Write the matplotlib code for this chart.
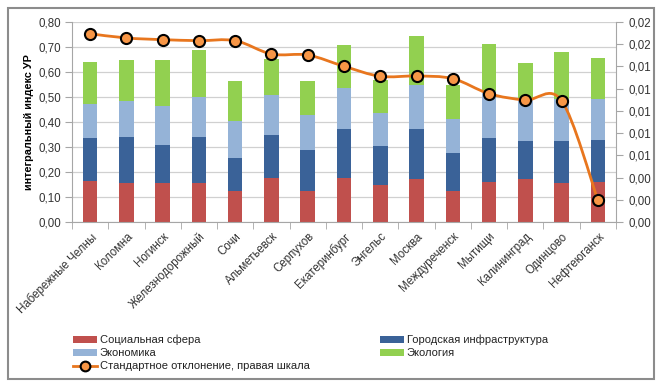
import numpy as np
import matplotlib
matplotlib.use('Agg')
import matplotlib.pyplot as plt
from matplotlib.patches import Rectangle, Patch
from matplotlib.lines import Line2D
from matplotlib.path import Path
from matplotlib.patches import PathPatch
from matplotlib.ticker import FuncFormatter, MultipleLocator

plt.rcParams['font.family'] = ['Liberation Sans', 'DejaVu Sans']

# данные
cities = ['Набережные Челны', 'Коломна', 'Ногинск', 'Железнодорожный', 'Сочи',
          'Альметьевск', 'Серпухов', 'Екатеринбург', 'Энгельс', 'Москва',
          'Междуреченск', 'Мытищи', 'Калининград', 'Одинцово', 'Нефтеюганск']
# накопленные уровни (верх каждого сегмента), левая шкала
top_social = [0.164, 0.157, 0.157, 0.158, 0.124, 0.176, 0.125, 0.178, 0.150, 0.173,
              0.125, 0.160, 0.172, 0.156, 0.162]
top_infra = [0.336, 0.341, 0.310, 0.342, 0.256, 0.349, 0.289, 0.373, 0.306, 0.373,
             0.277, 0.338, 0.326, 0.326, 0.329]
top_econ = [0.472, 0.484, 0.462, 0.500, 0.404, 0.509, 0.428, 0.536, 0.436, 0.546,
            0.412, 0.522, 0.489, 0.493, 0.493]
top_ecol = [0.640, 0.646, 0.649, 0.688, 0.565, 0.652, 0.565, 0.706, 0.566, 0.742,
            0.549, 0.710, 0.634, 0.678, 0.654]
# стандартное отклонение, правая шкала
std_dev = [0.01692, 0.01654, 0.01639, 0.01630, 0.01630, 0.01510, 0.01501, 0.01400,
           0.01310, 0.01313, 0.01289, 0.01154, 0.01097, 0.01091, 0.00200]

social = np.array(top_social)
infra = np.array(top_infra) - social
econ = np.array(top_econ) - np.array(top_infra)
ecol = np.array(top_ecol) - np.array(top_econ)

c_red = '#C0504D'
c_blue = '#3A6298'
c_light = '#95B3D7'
c_green = '#92D050'
c_line = '#E8761E'
c_marker = '#F79646'
fs = 8.3

W, H = 659, 383
fig = plt.figure(figsize=(W / 100, H / 100), dpi=100, facecolor='white')
ax = fig.add_axes([72 / W, 1 - 222.3 / H, (616 - 72) / W, (222.3 - 21.7) / H])

x = np.arange(len(cities))
bw = 0.4
ax.bar(x, social, bw, color=c_red, zorder=2)
ax.bar(x, infra, bw, bottom=social, color=c_blue, zorder=2)
ax.bar(x, econ, bw, bottom=np.array(top_infra), color=c_light, zorder=2)
ax.bar(x, ecol, bw, bottom=np.array(top_econ), color=c_green, zorder=2)

ax.set_xlim(-0.5, len(cities) - 0.5)
ax.set_ylim(0, 0.8)
ax.yaxis.set_major_locator(MultipleLocator(0.1))
ax.yaxis.set_major_formatter(FuncFormatter(lambda v, p: ('%.2f' % v).replace('.', ',')))
ax.grid(axis='y', color='#D0D0D0', linewidth=0.9, zorder=0)
ax.set_axisbelow(True)
for s in ['top', 'right']:
    ax.spines[s].set_visible(False)
for s in ['left', 'bottom']:
    ax.spines[s].set_color('#A6A6A6')
ax.tick_params(axis='y', colors='#A6A6A6', labelcolor='#333333', length=5, labelsize=fs, pad=3)
ax.set_xticks(x)
ax.set_xticklabels(cities, rotation=45, ha='right', rotation_mode='anchor', fontsize=fs,
                   color='#333333')
ax.tick_params(axis='x', which='major', length=0, pad=6)
ax.set_xticks(np.arange(-0.5, len(cities)), minor=True)
ax.tick_params(axis='x', which='minor', length=5, color='#A6A6A6')
ax.set_ylabel('интегральный индекс УР', fontsize=7.8, fontweight='bold')
ax.yaxis.set_label_coords(-(72 - 34) / (616 - 72), 0.5)

# правая шкала
ax2 = ax.twinx()
ax2.set_ylim(0, 0.018)
ax2.yaxis.set_major_locator(MultipleLocator(0.002))
ax2.yaxis.set_major_formatter(FuncFormatter(lambda v, p: ('%.2f' % v).replace('.', ',')))
for s in ['top', 'left', 'bottom']:
    ax2.spines[s].set_visible(False)
ax2.spines['right'].set_color('#A6A6A6')
ax2.tick_params(axis='y', colors='#A6A6A6', labelcolor='#333333', length=5, labelsize=fs, pad=4)

# сглаженная линия (Catmull-Rom как в Excel)
px = x.astype(float)
py = np.array(std_dev)
verts = [(px[0], py[0])]
codes = [Path.MOVETO]
n = len(px)
for i in range(n - 1):
    p0 = (px[max(i - 1, 0)], py[max(i - 1, 0)])
    p1 = (px[i], py[i])
    p2 = (px[i + 1], py[i + 1])
    p3 = (px[min(i + 2, n - 1)], py[min(i + 2, n - 1)])
    c1 = (p1[0] + (p2[0] - p0[0]) / 6, p1[1] + (p2[1] - p0[1]) / 6)
    c2 = (p2[0] - (p3[0] - p1[0]) / 6, p2[1] - (p3[1] - p1[1]) / 6)
    verts += [c1, c2, p2]
    codes += [Path.CURVE4] * 3
ax2.add_patch(PathPatch(Path(verts, codes), facecolor='none', edgecolor=c_line,
                        linewidth=2, zorder=3))
ax2.plot(px, py, linestyle='none', marker='o', markersize=8, markerfacecolor=c_marker,
         markeredgecolor='black', markeredgewidth=1.5, zorder=4)

# легенда
h1 = [Patch(facecolor=c_red, label='Социальная сфера'),
      Patch(facecolor=c_light, label='Экономика'),
      Line2D([], [], color=c_line, linewidth=2, marker='o', markersize=7,
             markerfacecolor=c_marker, markeredgecolor='black', markeredgewidth=1.5,
             label='Стандартное отклонение, правая шкала')]
h2 = [Patch(facecolor=c_blue, label='Городская инфраструктура'),
      Patch(facecolor=c_green, label='Экология')]
kw = dict(frameon=False, fontsize=8, handlelength=2.2, handleheight=0.6,
          handletextpad=0.25, labelspacing=0.28, borderpad=0, loc='upper left',
          labelcolor='#222222')
leg1 = fig.legend(handles=h1, bbox_to_anchor=(67 / W, 1 - 329 / H), **kw)
leg2 = fig.legend(handles=h2, bbox_to_anchor=(374 / W, 1 - 329 / H), **kw)

# рамка вокруг диаграммы
fig.patches.append(Rectangle((8 / W, 1 - 379 / H), (654 - 8) / W, (379 - 8) / H,
                             transform=fig.transFigure, fill=False,
                             edgecolor='#8C8C8C', linewidth=1.5))

fig.savefig('out.png', dpi=100, facecolor='white')
